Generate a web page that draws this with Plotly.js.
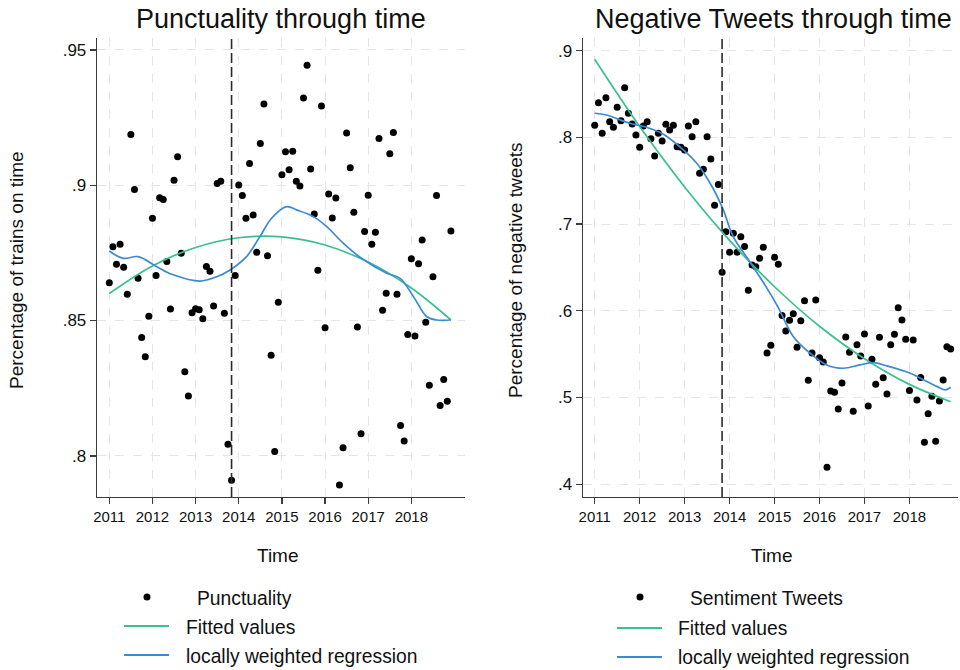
<!DOCTYPE html>
<html>
<head>
<meta charset="utf-8">
<script src="https://cdn.plot.ly/plotly-3.0.1.min.js"></script>
<style>
  html, body { margin: 0; padding: 0; background: #ffffff; }
  #chart { width: 960px; height: 670px; }
</style>
</head>
<body>
<div id="chart"></div>
<script>
// Monthly observations, January 2011 to December 2018 (96 months)
const startYear = 2011;
const monthCount = 96;

// Share of trains on time, one value per month
const punctuality = [
  0.8640, 0.8773, 0.8708, 0.8782, 0.8697, 0.8597, 0.9187, 0.8984, 0.8656, 0.8437, 0.8366, 0.8516,
  0.8878, 0.8666, 0.8954, 0.8947, 0.8718, 0.8543, 0.9018, 0.9105, 0.8749, 0.8311, 0.8221, 0.8529,
  0.8544, 0.8540, 0.8507, 0.8700, 0.8682, 0.8554, 0.9006, 0.9015, 0.8527, 0.8043, 0.7910, 0.8666,
  0.9001, 0.8962, 0.8878, 0.9080, 0.8890, 0.8752, 0.9154, 0.9300, 0.8739, 0.8372, 0.8016, 0.8568,
  0.9039, 0.9124, 0.9057, 0.9126, 0.9015, 0.8997, 0.9322, 0.9443, 0.9060, 0.8894, 0.8686, 0.9293,
  0.8473, 0.8968, 0.8879, 0.8953, 0.7892, 0.8030, 0.9193, 0.9065, 0.8900, 0.8476, 0.8082, 0.8829,
  0.8963, 0.8782, 0.8826, 0.9173, 0.8538, 0.8601, 0.9116, 0.9195, 0.8597, 0.8112, 0.8055, 0.8448,
  0.8728, 0.8443, 0.8710, 0.8798, 0.8494, 0.8261, 0.8662, 0.8962, 0.8186, 0.8282, 0.8202, 0.8831
];

// Share of negative tweets, one value per month
const sentiment = [
  0.8140, 0.8400, 0.8047, 0.8458, 0.8181, 0.8116, 0.8347, 0.8193, 0.8573, 0.8278, 0.8155, 0.8028,
  0.7886, 0.8131, 0.8181, 0.7985, 0.7785, 0.8047, 0.7958, 0.8151, 0.8085, 0.8140, 0.7893, 0.7886,
  0.7855, 0.8131, 0.8008, 0.8181, 0.7586, 0.7632, 0.8008, 0.7751, 0.7217, 0.7455, 0.6444, 0.6912,
  0.6675, 0.6894, 0.6675, 0.6855, 0.6740, 0.6236, 0.6528, 0.6509, 0.6605, 0.6732, 0.5513, 0.5602,
  0.6617, 0.6536, 0.5944, 0.5767, 0.5890, 0.5967, 0.5579, 0.5886, 0.6116, 0.5198, 0.5513, 0.6125,
  0.5459, 0.5410, 0.4195, 0.5075, 0.5060, 0.4867, 0.5167, 0.5698, 0.5521, 0.4841, 0.5609, 0.5479,
  0.5732, 0.4902, 0.5440, 0.5152, 0.5694, 0.5226, 0.5040, 0.5609, 0.5729, 0.6036, 0.5894, 0.5671,
  0.5079, 0.5663, 0.4971, 0.5230, 0.4483, 0.4812, 0.5014, 0.4495, 0.4960, 0.5202, 0.5586, 0.5560
];

// Quadratic fitted values (punctuality)
const fitPunctX = [2011.0, 2012.0, 2013.0, 2014.0, 2015.0, 2016.0, 2017.0, 2018.0, 2018.917];
const fitPunctY = [0.8600, 0.8702, 0.8770, 0.8806, 0.8809, 0.8779, 0.8716, 0.8620, 0.8502];

// Locally weighted regression (punctuality)
const lowPunctX = [2011.0, 2011.32, 2011.67, 2012.10, 2012.48, 2013.10, 2013.49, 2013.80, 2014.18,
                   2014.49, 2014.76, 2015.11, 2015.34, 2015.73, 2016.04, 2016.42, 2016.81, 2017.43,
                   2017.74, 2018.05, 2018.36, 2018.59, 2018.917];
const lowPunctY = [0.8757, 0.8730, 0.8736, 0.8699, 0.8669, 0.8646, 0.8662, 0.8687, 0.8736,
                   0.8810, 0.8878, 0.8921, 0.8909, 0.8884, 0.8847, 0.8786, 0.8734, 0.8675,
                   0.8656, 0.8588, 0.8514, 0.8502, 0.8502];

// Quadratic fitted values (negative tweets)
const fitTweetX = [2011.0, 2012.0, 2013.0, 2014.0, 2015.0, 2016.0, 2017.0, 2018.0, 2018.917];
const fitTweetY = [0.8900, 0.8124, 0.7428, 0.6812, 0.6277, 0.5821, 0.5447, 0.5151, 0.4951];

// Locally weighted regression (negative tweets)
const lowTweetX = [2011.0, 2011.26, 2011.78, 2012.15, 2012.52, 2012.89, 2013.27, 2013.63, 2013.86,
                   2014.08, 2014.45, 2014.82, 2015.08, 2015.42, 2015.79, 2016.16, 2016.53, 2016.90,
                   2017.20, 2017.50, 2018.02, 2018.32, 2018.62, 2018.80, 2018.917];
const lowTweetY = [0.8278, 0.8258, 0.8162, 0.8116, 0.8039, 0.7893, 0.7701, 0.7413, 0.7163,
                   0.6855, 0.6566, 0.6270, 0.6040, 0.5701, 0.5510, 0.5375, 0.5337, 0.5375,
                   0.5402, 0.5364, 0.5279, 0.5202, 0.5125, 0.5087, 0.5118];

// Policy change marker (November 2013)
const breakDate = 2013 + 10 / 12;

const yearTicks = [2011, 2012, 2013, 2014, 2015, 2016, 2017, 2018];
const punctTickVals = [0.80, 0.85, 0.90, 0.95];
const punctTickText = ['.8', '.85', '.9', '.95'];
const tweetTickVals = [0.4, 0.5, 0.6, 0.7, 0.8, 0.9];
const tweetTickText = ['.4', '.5', '.6', '.7', '.8', '.9'];

// time index in decimal years
const months = [];
for (let i = 0; i < monthCount; i++) months.push(startYear + i / 12);

const W = 960, H = 670;
const px = x => x / W;
const py = y => 1 - y / H;

const FONT = 'Liberation Sans, Arial, Helvetica, sans-serif';
const GREEN = '#38c08f';
const BLUE = '#3b8ad8';
const AXIS = '#3c3c3c';
const GRID = '#e2e5ec';

const traces = [
  { x: months, y: punctuality, xaxis: 'x', yaxis: 'y', mode: 'markers', type: 'scatter',
    marker: { color: '#000000', size: 7 }, hoverinfo: 'x+y' },
  { x: fitPunctX, y: fitPunctY, xaxis: 'x', yaxis: 'y', mode: 'lines', type: 'scatter',
    line: { color: GREEN, width: 1.7, shape: 'spline' } },
  { x: lowPunctX, y: lowPunctY, xaxis: 'x', yaxis: 'y', mode: 'lines', type: 'scatter',
    line: { color: BLUE, width: 1.7, shape: 'spline', smoothing: 1 } },
  { x: months, y: sentiment, xaxis: 'x2', yaxis: 'y2', mode: 'markers', type: 'scatter',
    marker: { color: '#000000', size: 7 }, hoverinfo: 'x+y' },
  { x: fitTweetX, y: fitTweetY, xaxis: 'x2', yaxis: 'y2', mode: 'lines', type: 'scatter',
    line: { color: GREEN, width: 1.7, shape: 'spline' } },
  { x: lowTweetX, y: lowTweetY, xaxis: 'x2', yaxis: 'y2', mode: 'lines', type: 'scatter',
    line: { color: BLUE, width: 1.7, shape: 'spline', smoothing: 1 } }
];

const plotTop = 38, plotBottom = 497;
const yDomain = [py(plotBottom), py(plotTop)];

function xAxis(domain, range) {
  return {
    domain: domain, range: range, tickvals: yearTicks, ticktext: yearTicks.map(String),
    showline: true, linecolor: AXIS, linewidth: 1.3, ticks: 'outside', ticklen: 6,
    tickcolor: AXIS, tickwidth: 1.3, showgrid: true, gridcolor: GRID, gridwidth: 1,
    griddash: 'dash', zeroline: false, tickfont: { family: FONT, size: 15, color: '#111' },
    fixedrange: true
  };
}
function yAxis(range, vals, text, anchor) {
  return {
    domain: yDomain, range: range, tickvals: vals, ticktext: text, anchor: anchor,
    showline: true, linecolor: AXIS, linewidth: 1.3, ticks: 'outside', ticklen: 6,
    tickcolor: AXIS, tickwidth: 1.3, showgrid: true, gridcolor: GRID, gridwidth: 1,
    griddash: 'dash', zeroline: false, tickfont: { family: FONT, size: 17, color: '#111' },
    fixedrange: true
  };
}

const LEG = 19.3;

const layout = {
  width: W, height: H,
  margin: { l: 0, r: 0, t: 0, b: 0 },
  paper_bgcolor: '#ffffff', plot_bgcolor: '#ffffff',
  showlegend: false,
  font: { family: FONT, color: '#111' },
  xaxis: Object.assign(xAxis([px(97), px(465)], [2010.715, 2019.243]), { anchor: 'y' }),
  yaxis: yAxis([0.7848, 0.9544], punctTickVals, punctTickText, 'x'),
  xaxis2: Object.assign(xAxis([px(583), px(958)], [2010.74, 2019.08]), { anchor: 'y2' }),
  yaxis2: yAxis([0.3852, 0.9146], tweetTickVals, tweetTickText, 'x2'),
  shapes: [
    { type: 'line', xref: 'x', yref: 'y domain', x0: breakDate, x1: breakDate, y0: 0, y1: 1,
      line: { color: '#2b2b2b', width: 1.6, dash: '10px,4px' } },
    { type: 'line', xref: 'x2', yref: 'y2 domain', x0: breakDate, x1: breakDate, y0: 0, y1: 1,
      line: { color: '#2b2b2b', width: 1.6, dash: '10px,4px' } },
    // legend keys, left panel
    { type: 'circle', xref: 'paper', yref: 'paper', x0: px(143.5), x1: px(150.5), y0: py(600.5), y1: py(593.5),
      fillcolor: '#000', line: { width: 0 } },
    { type: 'line', xref: 'paper', yref: 'paper', x0: px(124), x1: px(169), y0: py(626), y1: py(626),
      line: { color: GREEN, width: 2 } },
    { type: 'line', xref: 'paper', yref: 'paper', x0: px(124), x1: px(169), y0: py(655), y1: py(655),
      line: { color: BLUE, width: 2 } },
    // legend keys, right panel
    { type: 'circle', xref: 'paper', yref: 'paper', x0: px(636.5), x1: px(643.5), y0: py(600.5), y1: py(593.5),
      fillcolor: '#000', line: { width: 0 } },
    { type: 'line', xref: 'paper', yref: 'paper', x0: px(617), x1: px(662), y0: py(628), y1: py(628),
      line: { color: GREEN, width: 2 } },
    { type: 'line', xref: 'paper', yref: 'paper', x0: px(617), x1: px(662), y0: py(657), y1: py(657),
      line: { color: BLUE, width: 2 } }
  ],
  annotations: [
    { text: 'Punctuality through time', x: px(281), y: py(19), xref: 'paper', yref: 'paper',
      showarrow: false, xanchor: 'center', yanchor: 'middle', font: { family: FONT, size: 27, color: '#111' } },
    { text: 'Negative Tweets through time', x: px(773), y: py(19), xref: 'paper', yref: 'paper',
      showarrow: false, xanchor: 'center', yanchor: 'middle', font: { family: FONT, size: 27, color: '#111' } },
    { text: 'Percentage of trains on time', x: px(16), y: py(270), xref: 'paper', yref: 'paper',
      showarrow: false, textangle: -90, xanchor: 'center', yanchor: 'middle', font: { family: FONT, size: 19, color: '#111' } },
    { text: 'Percentage of negative tweets', x: px(515), y: py(270), xref: 'paper', yref: 'paper',
      showarrow: false, textangle: -90, xanchor: 'center', yanchor: 'middle', font: { family: FONT, size: 19, color: '#111' } },
    { text: 'Time', x: px(278), y: py(555), xref: 'paper', yref: 'paper',
      showarrow: false, xanchor: 'center', yanchor: 'middle', font: { family: FONT, size: 19, color: '#111' } },
    { text: 'Time', x: px(772), y: py(555), xref: 'paper', yref: 'paper',
      showarrow: false, xanchor: 'center', yanchor: 'middle', font: { family: FONT, size: 19, color: '#111' } },
    { text: 'Punctuality', x: px(195), y: py(598), xref: 'paper', yref: 'paper',
      showarrow: false, xanchor: 'left', yanchor: 'middle', font: { family: FONT, size: LEG, color: '#111' } },
    { text: 'Fitted values', x: px(184), y: py(627), xref: 'paper', yref: 'paper',
      showarrow: false, xanchor: 'left', yanchor: 'middle', font: { family: FONT, size: LEG, color: '#111' } },
    { text: 'locally weighted regression', x: px(184), y: py(656), xref: 'paper', yref: 'paper',
      showarrow: false, xanchor: 'left', yanchor: 'middle', font: { family: FONT, size: LEG, color: '#111' } },
    { text: 'Sentiment Tweets', x: px(688), y: py(598), xref: 'paper', yref: 'paper',
      showarrow: false, xanchor: 'left', yanchor: 'middle', font: { family: FONT, size: LEG, color: '#111' } },
    { text: 'Fitted values', x: px(676), y: py(628), xref: 'paper', yref: 'paper',
      showarrow: false, xanchor: 'left', yanchor: 'middle', font: { family: FONT, size: LEG, color: '#111' } },
    { text: 'locally weighted regression', x: px(676), y: py(657), xref: 'paper', yref: 'paper',
      showarrow: false, xanchor: 'left', yanchor: 'middle', font: { family: FONT, size: LEG, color: '#111' } }
  ]
};

Plotly.newPlot('chart', traces, layout, { staticPlot: true, displayModeBar: false });
</script>
</body>
</html>
